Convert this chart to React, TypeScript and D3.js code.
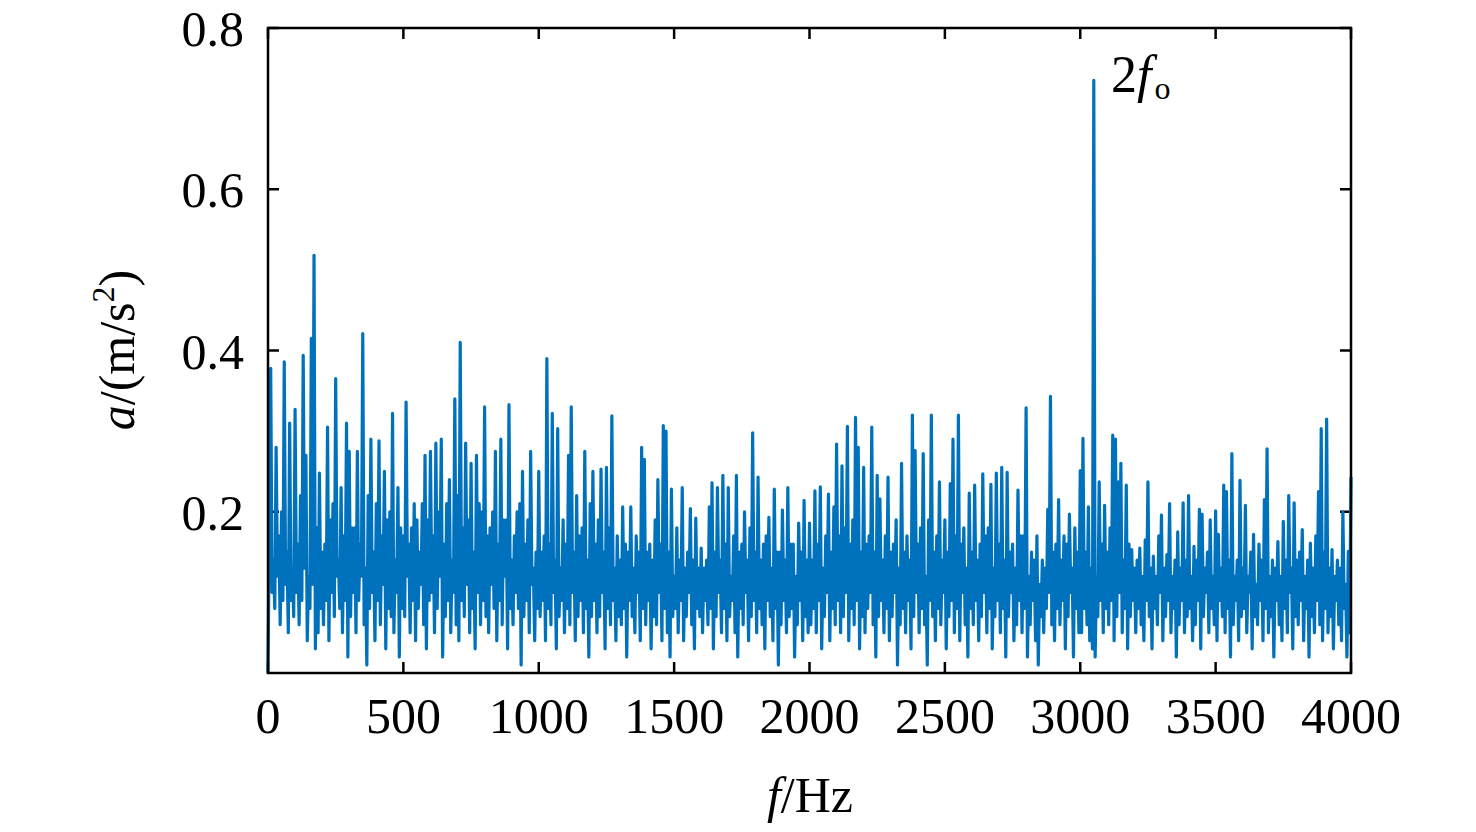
import React, {useEffect, useRef} from 'react';
import * as d3 from 'd3';

// spectrum: local maxima at f = 0, 10, 20 ... Hz
// and the local minima between them at f = 5, 15, 25 ... Hz
const peaksA: number[] = [ // 0 - 990 Hz
  0.00,0.378,0.14,0.28,0.17,0.20,0.386,0.15,0.31,0.13,
  0.327,0.16,0.22,0.394,0.27,0.12,0.415,0.518,0.18,0.248,
  0.15,0.16,0.305,0.19,0.21,0.365,0.14,0.23,0.17,0.31,
  0.275,0.18,0.18,0.275,0.16,0.421,0.13,0.22,0.29,0.15,
  0.21,0.288,0.17,0.25,0.19,0.20,0.322,0.14,0.23,0.18,
  0.17,0.336,0.16,0.18,0.21,0.19,0.15,0.21,0.27,0.19,
  0.275,0.17,0.285,0.20,0.29,0.16,0.21,0.24,0.14,0.34,
  0.22,0.41,0.18,0.285,0.19,0.26,0.15,0.27,0.21,0.20,
  0.33,0.17,0.18,0.20,0.275,0.16,0.29,0.19,0.19,0.333,
  0.14,0.17,0.20,0.21,0.25,0.16,0.19,0.275,0.13,0.15
];
const peaksB: number[] = [ // 1000 - 1990 Hz
  0.25,0.15,0.17,0.39,0.16,0.322,0.14,0.303,0.13,0.19,
  0.16,0.27,0.33,0.15,0.22,0.17,0.18,0.275,0.14,0.21,
  0.25,0.16,0.19,0.253,0.15,0.255,0.18,0.319,0.13,0.17,
  0.14,0.206,0.16,0.15,0.206,0.13,0.17,0.15,0.28,0.265,
  0.15,0.16,0.14,0.19,0.24,0.16,0.307,0.30,0.15,0.228,
  0.12,0.18,0.14,0.23,0.13,0.15,0.204,0.14,0.192,0.13,
  0.155,0.13,0.14,0.206,0.236,0.15,0.23,0.14,0.245,0.16,
  0.23,0.12,0.17,0.245,0.15,0.16,0.20,0.14,0.18,0.298,
  0.15,0.243,0.14,0.16,0.17,0.193,0.13,0.228,0.15,0.15,
  0.202,0.14,0.23,0.16,0.16,0.12,0.186,0.15,0.214,0.14
];
const peaksC: number[] = [ // 2000 - 2990 Hz
  0.186,0.14,0.226,0.16,0.231,0.13,0.17,0.222,0.15,0.206,
  0.284,0.17,0.257,0.18,0.306,0.16,0.19,0.317,0.28,0.15,
  0.255,0.16,0.17,0.305,0.15,0.245,0.216,0.14,0.17,0.243,
  0.15,0.16,0.19,0.13,0.26,0.15,0.17,0.14,0.32,0.276,
  0.16,0.18,0.272,0.12,0.19,0.32,0.15,0.17,0.237,0.14,
  0.19,0.15,0.235,0.29,0.17,0.32,0.16,0.18,0.13,0.223,
  0.15,0.233,0.14,0.16,0.247,0.17,0.18,0.234,0.13,0.248,
  0.16,0.255,0.14,0.249,0.15,0.16,0.13,0.227,0.17,0.17,
  0.329,0.12,0.15,0.14,0.17,0.11,0.14,0.13,0.203,0.343,
  0.15,0.16,0.215,0.14,0.17,0.16,0.197,0.13,0.18,0.15
];
const peaksD: number[] = [ // 3000 - 4000 Hz
  0.251,0.291,0.15,0.206,0.13,0.735,0.12,0.237,0.16,0.208,
  0.15,0.18,0.295,0.29,0.237,0.26,0.14,0.233,0.16,0.153,
  0.13,0.14,0.155,0.12,0.165,0.237,0.13,0.145,0.12,0.17,
  0.196,0.13,0.147,0.21,0.12,0.14,0.175,0.13,0.211,0.14,
  0.22,0.12,0.157,0.14,0.203,0.197,0.13,0.15,0.19,0.12,
  0.201,0.172,0.13,0.233,0.225,0.14,0.272,0.12,0.14,0.239,
  0.13,0.208,0.12,0.15,0.172,0.11,0.16,0.14,0.215,0.278,
  0.12,0.14,0.13,0.163,0.12,0.188,0.14,0.22,0.13,0.211,
  0.14,0.15,0.178,0.12,0.14,0.161,0.13,0.17,0.225,0.303,
  0.15,0.315,0.13,0.153,0.12,0.14,0.13,0.2,0.11,0.151,
  0.243
];

const dipsA: number[] = [ // 5 - 995 Hz
  0.19,0.10,0.08,0.12,0.06,0.09,0.11,0.05,0.09,0.07,
  0.10,0.06,0.09,0.13,0.04,0.08,0.11,0.03,0.05,0.08,
  0.06,0.09,0.04,0.10,0.07,0.12,0.08,0.05,0.09,0.02,
  0.07,0.10,0.05,0.09,0.12,0.06,0.01,0.08,0.10,0.04,
  0.09,0.06,0.11,0.03,0.08,0.07,0.05,0.10,0.02,0.08,
  0.07,0.12,0.05,0.09,0.04,0.08,0.11,0.06,0.03,0.09,
  0.10,0.05,0.08,0.12,0.02,0.07,0.09,0.05,0.10,0.06,
  0.04,0.09,0.07,0.11,0.05,0.08,0.03,0.10,0.06,0.09,
  0.07,0.05,0.11,0.08,0.04,0.09,0.06,0.12,0.03,0.08,
  0.06,0.10,0.08,0.01,0.07,0.09,0.05,0.11,0.04,0.08
];
const dipsB: number[] = [ // 1005 - 1995 Hz
  0.07,0.09,0.04,0.08,0.06,0.10,0.03,0.07,0.09,0.05,
  0.08,0.06,0.10,0.04,0.07,0.09,0.05,0.08,0.02,0.07,
  0.09,0.05,0.07,0.10,0.03,0.08,0.06,0.09,0.04,0.07,
  0.06,0.08,0.02,0.09,0.07,0.05,0.10,0.04,0.08,0.06,
  0.09,0.03,0.07,0.06,0.10,0.04,0.08,0.05,0.02,0.07,
  0.08,0.05,0.09,0.04,0.07,0.10,0.06,0.03,0.08,0.07,
  0.05,0.09,0.06,0.08,0.03,0.07,0.10,0.05,0.08,0.04,
  0.07,0.09,0.05,0.02,0.08,0.06,0.10,0.04,0.07,0.09,
  0.05,0.08,0.06,0.03,0.09,0.07,0.04,0.08,0.01,0.06,
  0.09,0.05,0.07,0.08,0.02,0.06,0.09,0.04,0.07,0.05
];
const dipsC: number[] = [ // 2005 - 2995 Hz
  0.06,0.08,0.05,0.09,0.03,0.07,0.10,0.04,0.08,0.06,
  0.09,0.05,0.07,0.10,0.04,0.08,0.06,0.09,0.03,0.07,
  0.05,0.08,0.10,0.06,0.02,0.07,0.09,0.05,0.08,0.04,
  0.07,0.10,0.01,0.06,0.08,0.05,0.09,0.03,0.07,0.10,
  0.05,0.08,0.06,0.01,0.09,0.07,0.04,0.08,0.06,0.10,
  0.03,0.07,0.09,0.05,0.08,0.04,0.10,0.06,0.02,0.08,
  0.06,0.09,0.04,0.07,0.10,0.05,0.08,0.03,0.07,0.09,
  0.05,0.08,0.02,0.07,0.10,0.04,0.06,0.09,0.05,0.08,
  0.02,0.06,0.09,0.04,0.01,0.07,0.05,0.08,0.10,0.06,
  0.04,0.08,0.06,0.09,0.03,0.07,0.10,0.02,0.08,0.05
];
const dipsD: number[] = [ // 3005 - 3995 Hz
  0.05,0.08,0.06,0.04,0.03,0.02,0.07,0.09,0.05,0.08,
  0.06,0.09,0.04,0.07,0.10,0.05,0.08,0.03,0.07,0.09,
  0.05,0.08,0.06,0.04,0.09,0.07,0.03,0.08,0.06,0.10,
  0.04,0.07,0.09,0.05,0.08,0.02,0.06,0.09,0.05,0.07,
  0.08,0.04,0.06,0.09,0.03,0.07,0.10,0.05,0.08,0.06,
  0.04,0.09,0.07,0.05,0.08,0.02,0.06,0.09,0.04,0.07,
  0.08,0.05,0.10,0.03,0.07,0.06,0.09,0.04,0.08,0.05,
  0.07,0.02,0.09,0.06,0.04,0.08,0.05,0.10,0.03,0.07,
  0.06,0.09,0.04,0.08,0.02,0.07,0.05,0.09,0.06,0.04,
  0.08,0.05,0.07,0.03,0.09,0.06,0.04,0.08,0.02,0.05
];

const freqStep = 10;
const xTicks: number[] = [0, 500, 1000, 1500, 2000, 2500, 3000, 3500, 4000];
const yTicks: number[] = [0.2, 0.4, 0.6, 0.8];

const App = () => {
  const ref = useRef<SVGSVGElement | null>(null);

  useEffect(() => {
    const svg = d3.select(ref.current);
    svg.selectAll('*').remove();

    // plot box
    const left = 268, right = 1351, top = 28, bottom = 673;
    const tickLen = 11;
    const font = 'Liberation Serif, Times New Roman, serif';

    const x = d3.scaleLinear().domain([0, 4000]).range([left, right]);
    const y = d3.scaleLinear().domain([0, 0.8]).range([bottom, top]);

    const peaks = [...peaksA, ...peaksB, ...peaksC, ...peaksD];
    const dips = [...dipsA, ...dipsB, ...dipsC, ...dipsD];
    const pts: [number, number][] = [];
    peaks.forEach((v, i) => {
      pts.push([i * freqStep, v]);
      if (i < dips.length) pts.push([i * freqStep + freqStep / 2, dips[i]]);
    });

    // ticks (inward, on all four sides)
    const g = svg.append('g');
    xTicks.forEach(t => {
      g.append('line').attr('x1', x(t)).attr('x2', x(t)).attr('y1', bottom).attr('y2', bottom - tickLen)
        .attr('stroke', '#000').attr('stroke-width', 2.5);
      g.append('line').attr('x1', x(t)).attr('x2', x(t)).attr('y1', top).attr('y2', top + tickLen)
        .attr('stroke', '#000').attr('stroke-width', 2.5);
    });
    yTicks.forEach(t => {
      g.append('line').attr('x1', left).attr('x2', left + tickLen).attr('y1', y(t)).attr('y2', y(t))
        .attr('stroke', '#000').attr('stroke-width', 2.5);
      g.append('line').attr('x1', right).attr('x2', right - tickLen).attr('y1', y(t)).attr('y2', y(t))
        .attr('stroke', '#000').attr('stroke-width', 2.5);
    });

    // the spectrum line
    const line = d3.line<[number, number]>()
      .x(d => x(d[0]))
      .y(d => y(d[1]));

    svg.append('path')
      .datum(pts)
      .attr('d', line)
      .attr('fill', 'none')
      .attr('stroke', '#0072BD')
      .attr('stroke-width', 3.2)
      .attr('stroke-linejoin', 'round');

    // box on top
    svg.append('rect')
      .attr('x', left).attr('y', top)
      .attr('width', right - left).attr('height', bottom - top)
      .attr('fill', 'none').attr('stroke', '#000').attr('stroke-width', 2.5);

    // tick labels
    xTicks.forEach(t => {
      svg.append('text')
        .attr('x', x(t)).attr('y', 733)
        .attr('text-anchor', 'middle')
        .attr('font-family', font).attr('font-size', 50)
        .text(String(t));
    });
    yTicks.forEach(t => {
      svg.append('text')
        .attr('x', 244).attr('y', y(t) + 18)
        .attr('text-anchor', 'end')
        .attr('font-family', font).attr('font-size', 50)
        .text(t.toFixed(1));
    });

    // x title
    const xt = svg.append('text')
      .attr('x', 810).attr('y', 812)
      .attr('text-anchor', 'middle')
      .attr('font-family', font).attr('font-size', 50);
    xt.append('tspan').attr('font-style', 'italic').text('f');
    xt.append('tspan').text('/Hz');

    // y title, rotated
    const yt = svg.append('text')
      .attr('transform', 'translate(134,350) rotate(-90)')
      .attr('text-anchor', 'middle')
      .attr('font-family', font).attr('font-size', 50);
    yt.append('tspan').attr('font-style', 'italic').text('a');
    yt.append('tspan').text('/(m/s');
    yt.append('tspan').attr('font-size', 32).attr('dy', -20).text('2');
    yt.append('tspan').attr('dy', 20).text(')');

    // peak label 2f_o
    const pk = svg.append('text')
      .attr('x', 1111).attr('y', 92)
      .attr('font-family', font).attr('font-size', 52);
    pk.append('tspan').text('2');
    pk.append('tspan').attr('font-style', 'italic').text('f');
    pk.append('tspan').attr('font-size', 32).attr('dx', 3).attr('dy', 7).text('o');
  }, []);

  return (
    <svg ref={ref} width={1476} height={832}
      style={{position: 'absolute', left: 0, top: 0, display: 'block', background: '#fff'}} />
  );
};

export default App;
